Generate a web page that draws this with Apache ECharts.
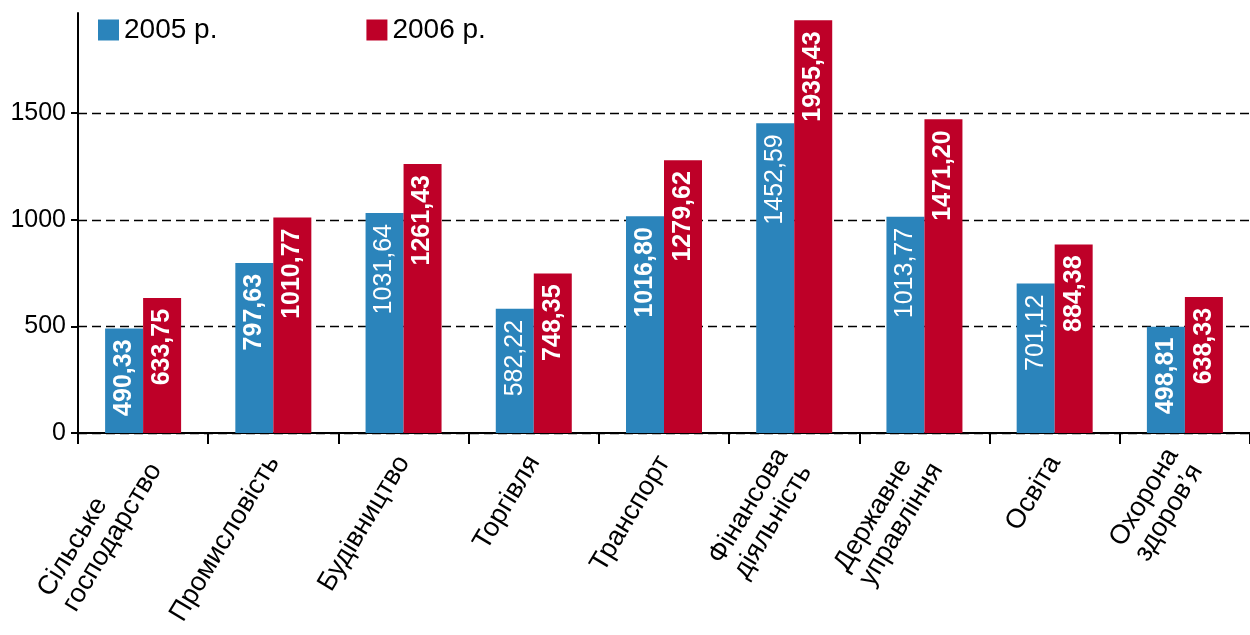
<!DOCTYPE html>
<html><head><meta charset="utf-8">
<script src="https://cdn.jsdelivr.net/npm/echarts@6/dist/echarts.min.js"></script>
<style>html,body{margin:0;padding:0;background:#fff}#c{width:1250px;height:635px}</style>
</head><body><div id="c"></div>
<script>
const categories = ["Сільське\nгосподарство","Промисловість","Будівництво","Торгівля","Транспорт","Фінансова\nдіяльність","Державне\nуправління","Освіта","Охорона\nздоров’я"];
const seriesNames = ["2005 р.","2006 р."];
const values2005 = [490.33,797.63,1031.64,582.22,1016.80,1452.59,1013.77,701.12,498.81];
const values2006 = [633.75,1010.77,1261.43,748.35,1279.62,1935.43,1471.20,884.38,638.33];
const bold2005 = [true,true,false,false,true,false,false,false,true];
const yTicks = [0,500,1000,1500];

const FONT = '"Liberation Sans", Arial, sans-serif';
const fmt = v => v.toFixed(2).replace('.', ',');
const labelBase = {show:true, position:'insideTop', rotate:90, align:'right', verticalAlign:'middle', distance:11, color:'#fff', fontFamily:FONT, fontSize:25, formatter:p=>fmt(p.value)};

const chart = echarts.init(document.getElementById('c'), null, {renderer:'canvas'});
chart.setOption({
  animation:false,
  textStyle:{fontFamily:FONT},
  legend:{left:93, top:11, itemWidth:21, itemHeight:21, itemGap:149, icon:'rect',
    textStyle:{fontSize:28, color:'#000', fontFamily:FONT}, data:seriesNames},
  grid:{left:78, right:-2, top:13, bottom:202, containLabel:false},
  xAxis:{type:'category', data:categories, boundaryGap:true,
    axisLine:{lineStyle:{color:'#000', width:2}},
    axisTick:{show:true, length:11, lineStyle:{color:'#000', width:2}},
    axisLabel:{interval:0, rotate:59, margin:25, color:'#000', fontFamily:FONT, fontSize:27,
      formatter:v=>v.split('\n').map(s=>'{l|'+s+'}').join('\n'),
      rich:{l:{align:'left', fontSize:27, fontFamily:FONT, color:'#000', lineHeight:29}}}},
  yAxis:{type:'value', min:0, max:1970,
    axisLine:{show:true, lineStyle:{color:'#000', width:2}},
    axisTick:{show:true, length:7, customValues:yTicks, lineStyle:{color:'#000', width:2}},
    axisLabel:{customValues:yTicks, color:'#000', fontFamily:FONT, fontSize:25, margin:12, formatter:v=>String(v)},
    splitLine:{show:true, lineStyle:{color:'#000', width:1.3, type:[9,5]}}},
  series:[
    {name:seriesNames[0], type:'bar', barWidth:38, barGap:'0%', itemStyle:{color:'#2b84bb'},
      data:values2005.map((v,i)=>({value:v, label:{fontWeight: bold2005[i]?'bold':'normal'}})),
      label:labelBase},
    {name:seriesNames[1], type:'bar', barWidth:38, barGap:'0%', itemStyle:{color:'#be0028'},
      data:values2006, label:Object.assign({}, labelBase, {fontWeight:'bold'})}
  ]
});
</script></body></html>
